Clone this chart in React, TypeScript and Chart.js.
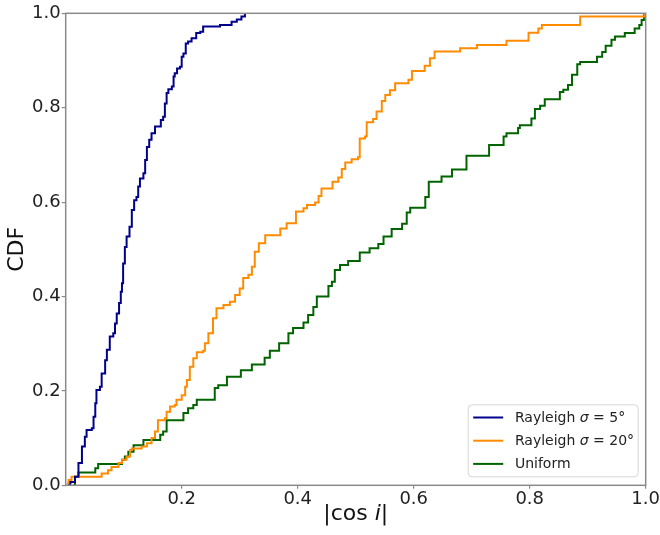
import React, { useEffect, useRef } from "react";
import { Chart, registerables } from "chart.js";
Chart.register(...registerables);

// ---- data ----
const seriesLabels = ["Rayleigh σ = 5°", "Rayleigh σ = 20°", "Uniform"];
const seriesColors = ["#00008b", "#ff8c00", "#006400"];

const blueX = [0.004, 0.008, 0.016, 0.022, 0.028, 0.033, 0.036, 0.045, 0.048, 0.051, 0.053, 0.059, 0.062, 0.068, 0.071, 0.076, 0.082, 0.085, 0.088, 0.092, 0.095, 0.097, 0.099, 0.102, 0.105, 0.110, 0.114, 0.118, 0.122, 0.125, 0.128, 0.134, 0.137, 0.140, 0.144, 0.148, 0.154, 0.164, 0.168, 0.171, 0.174, 0.177, 0.183, 0.186, 0.188, 0.192, 0.197, 0.200, 0.203, 0.207, 0.211, 0.217, 0.225, 0.232, 0.237, 0.266, 0.286, 0.295, 0.303, 0.309];
const blueY = [0.0, 0.007, 0.018, 0.047, 0.082, 0.103, 0.117, 0.121, 0.145, 0.174, 0.202, 0.209, 0.237, 0.265, 0.287, 0.315, 0.322, 0.343, 0.364, 0.386, 0.410, 0.428, 0.470, 0.505, 0.527, 0.548, 0.583, 0.604, 0.611, 0.633, 0.650, 0.661, 0.689, 0.717, 0.732, 0.746, 0.760, 0.774, 0.781, 0.809, 0.831, 0.839, 0.845, 0.866, 0.873, 0.883, 0.887, 0.908, 0.915, 0.936, 0.940, 0.947, 0.958, 0.961, 0.972, 0.975, 0.982, 0.987, 0.993, 1.0];

const orangeX = [0.002, 0.005, 0.010, 0.062, 0.073, 0.079, 0.091, 0.097, 0.105, 0.111, 0.114, 0.131, 0.140, 0.148, 0.154, 0.159, 0.171, 0.174, 0.180, 0.188, 0.191, 0.200, 0.206, 0.209, 0.214, 0.220, 0.226, 0.237, 0.240, 0.246, 0.254, 0.260, 0.272, 0.283, 0.292, 0.300, 0.306, 0.315, 0.321, 0.326, 0.333, 0.344, 0.370, 0.381, 0.397, 0.410, 0.416, 0.430, 0.436, 0.441, 0.460, 0.470, 0.476, 0.482, 0.493, 0.504, 0.507, 0.516, 0.519, 0.530, 0.536, 0.545, 0.551, 0.559, 0.568, 0.591, 0.597, 0.619, 0.628, 0.636, 0.680, 0.709, 0.760, 0.798, 0.815, 0.821, 0.887, 0.998];
const orangeY = [0.004, 0.011, 0.018, 0.025, 0.032, 0.039, 0.047, 0.054, 0.061, 0.075, 0.078, 0.082, 0.089, 0.100, 0.114, 0.138, 0.142, 0.156, 0.167, 0.170, 0.181, 0.191, 0.209, 0.223, 0.251, 0.269, 0.282, 0.285, 0.301, 0.322, 0.354, 0.375, 0.382, 0.389, 0.403, 0.417, 0.439, 0.446, 0.463, 0.495, 0.513, 0.530, 0.544, 0.555, 0.580, 0.587, 0.594, 0.599, 0.613, 0.629, 0.643, 0.652, 0.670, 0.684, 0.691, 0.695, 0.735, 0.739, 0.769, 0.776, 0.792, 0.814, 0.827, 0.837, 0.852, 0.859, 0.878, 0.889, 0.905, 0.919, 0.926, 0.933, 0.942, 0.959, 0.968, 0.975, 0.993, 1.0];

const greenX = [0.013, 0.016, 0.022, 0.051, 0.056, 0.097, 0.102, 0.108, 0.117, 0.134, 0.163, 0.168, 0.174, 0.203, 0.211, 0.220, 0.226, 0.257, 0.263, 0.278, 0.302, 0.321, 0.343, 0.352, 0.368, 0.384, 0.392, 0.410, 0.418, 0.427, 0.433, 0.453, 0.459, 0.464, 0.473, 0.487, 0.507, 0.524, 0.539, 0.548, 0.562, 0.580, 0.588, 0.594, 0.620, 0.626, 0.648, 0.666, 0.691, 0.730, 0.755, 0.760, 0.780, 0.783, 0.803, 0.809, 0.818, 0.826, 0.852, 0.858, 0.866, 0.873, 0.882, 0.887, 0.916, 0.925, 0.931, 0.941, 0.947, 0.964, 0.981, 0.989, 0.993, 0.997, 1.0];
const greenY = [0.0, 0.018, 0.027, 0.036, 0.045, 0.054, 0.061, 0.071, 0.085, 0.096, 0.107, 0.114, 0.138, 0.153, 0.163, 0.170, 0.181, 0.206, 0.212, 0.230, 0.244, 0.256, 0.270, 0.285, 0.301, 0.322, 0.333, 0.345, 0.361, 0.378, 0.400, 0.422, 0.431, 0.456, 0.467, 0.475, 0.493, 0.502, 0.511, 0.527, 0.543, 0.554, 0.578, 0.588, 0.611, 0.643, 0.654, 0.669, 0.698, 0.721, 0.739, 0.746, 0.757, 0.763, 0.777, 0.797, 0.804, 0.818, 0.833, 0.838, 0.848, 0.870, 0.892, 0.897, 0.908, 0.918, 0.931, 0.944, 0.951, 0.958, 0.968, 0.975, 0.986, 0.996, 1.0];

const xAxisTitle = ["|cos ", "i", "|"]; // middle part italic
const yAxisTitle = "CDF";

const FONT = "'DejaVu Sans', 'Liberation Sans', sans-serif";

function toPoints(xs: number[], ys: number[]) {
  return xs.map((x, i) => ({ x, y: ys[i] }));
}

function drawRich(ctx: CanvasRenderingContext2D, text: string, x: number, y: number, size: number) {
  const normal = `${size}px ${FONT}`;
  const italic = `italic ${size}px ${FONT}`;
  const parts = text.split("σ");
  let cx = x;
  parts.forEach((p, i) => {
    if (i > 0) {
      ctx.font = italic;
      ctx.fillText("σ", cx, y);
      cx += ctx.measureText("σ").width;
    }
    ctx.font = normal;
    ctx.fillText(p, cx, y);
    cx += ctx.measureText(p).width;
  });
}

const framePlugin = {
  id: "frameAndLegend",
  afterDatasetsDraw(chart: any) {
    const { ctx, chartArea } = chart;
    ctx.save();
    // axes frame
    ctx.strokeStyle = "#8a8a8a";
    ctx.lineWidth = 1.5;
    ctx.strokeRect(chartArea.left, chartArea.top, chartArea.right - chartArea.left, chartArea.bottom - chartArea.top);

    // legend box
    const w = 170, h = 72;
    const x0 = chartArea.right - 7.5 - w;
    const y0 = chartArea.bottom - 8.5 - h;
    ctx.beginPath();
    (ctx as any).roundRect(x0, y0, w, h, 4);
    ctx.fillStyle = "rgba(255,255,255,0.85)";
    ctx.fill();
    ctx.strokeStyle = "#d6d6d6";
    ctx.lineWidth = 1;
    ctx.stroke();
    chart.data.datasets.forEach((ds: any, i: number) => {
      const cy = y0 + 12.7 + i * 23.2;
      ctx.strokeStyle = ds.borderColor;
      ctx.lineWidth = 2;
      ctx.beginPath();
      ctx.moveTo(x0 + 5, cy);
      ctx.lineTo(x0 + 35, cy);
      ctx.stroke();
      ctx.fillStyle = "#222";
      ctx.textBaseline = "middle";
      ctx.textAlign = "left";
      drawRich(ctx, ds.label, x0 + 46.7, cy + 0.5, 14);
    });

    // x-axis title with italic i
    const size = 22;
    const fonts = [`${size}px ${FONT}`, `italic ${size}px ${FONT}`, `${size}px ${FONT}`];
    let total = 0;
    xAxisTitle.forEach((t, i) => {
      ctx.font = fonts[i];
      total += ctx.measureText(t).width;
    });
    let cx = (chartArea.left + chartArea.right) / 2 - total / 2;
    ctx.fillStyle = "#111";
    ctx.textBaseline = "alphabetic";
    xAxisTitle.forEach((t, i) => {
      ctx.font = fonts[i];
      ctx.fillText(t, cx, 520);
      cx += ctx.measureText(t).width;
    });
    ctx.restore();
  },
};

export default function App() {
  const ref = useRef<HTMLCanvasElement | null>(null);
  useEffect(() => {
    if (!ref.current) return;
    const series = [
      toPoints(blueX, blueY),
      toPoints(orangeX, orangeY),
      toPoints(greenX, greenY),
    ];
    const chart = new Chart(ref.current, {
      type: "line",
      data: {
        datasets: series.map((d, i) => ({
          label: seriesLabels[i],
          data: d,
          borderColor: seriesColors[i],
          backgroundColor: seriesColors[i],
          borderWidth: 2,
          pointRadius: 0,
          stepped: "before" as const,
          fill: false,
        })),
      },
      options: {
        responsive: false,
        animation: false,
        layout: { padding: { left: 0, right: 14.3, top: 13.3, bottom: 0 } },
        plugins: { legend: { display: false }, tooltip: { enabled: false } },
        scales: {
          x: {
            type: "linear",
            min: 0,
            max: 1,
            afterFit: (s: any) => { s.height = 49.7; },
            afterBuildTicks: (s: any) => { s.ticks = s.ticks.filter((t: any) => t.value > 0.001); },
            ticks: {
              stepSize: 0.2,
              padding: 0,
              color: "#222",
              font: { family: FONT, size: 18 },
              callback: (v: any) => Number(v).toFixed(1),
              maxRotation: 0,
            },
            grid: { drawOnChartArea: false, tickLength: 3.5, color: "#8a8a8a", lineWidth: 1.2 },
            border: { display: false },
          },
          y: {
            type: "linear",
            min: 0,
            max: 1,
            afterFit: (s: any) => { s.width = 65.7; },
            ticks: {
              stepSize: 0.2,
              padding: 1,
              color: "#222",
              font: { family: FONT, size: 18 },
              callback: (v: any) => Number(v).toFixed(1),
            },
            grid: { drawOnChartArea: false, tickLength: 4, color: "#8a8a8a", lineWidth: 1.2 },
            border: { display: false },
            title: {
              display: true,
              text: yAxisTitle,
              color: "#111",
              font: { family: FONT, size: 22 },
              padding: { top: 4, bottom: 0 },
            },
          },
        },
      },
      plugins: [framePlugin],
    });
    return () => chart.destroy();
  }, []);
  return (
    <div style={{ position: "fixed", left: 0, top: 0, width: 660, height: 535, background: "#fff" }}>
      <canvas ref={ref} width={660} height={535} style={{ width: 660, height: 535, display: "block" }} />
    </div>
  );
}
